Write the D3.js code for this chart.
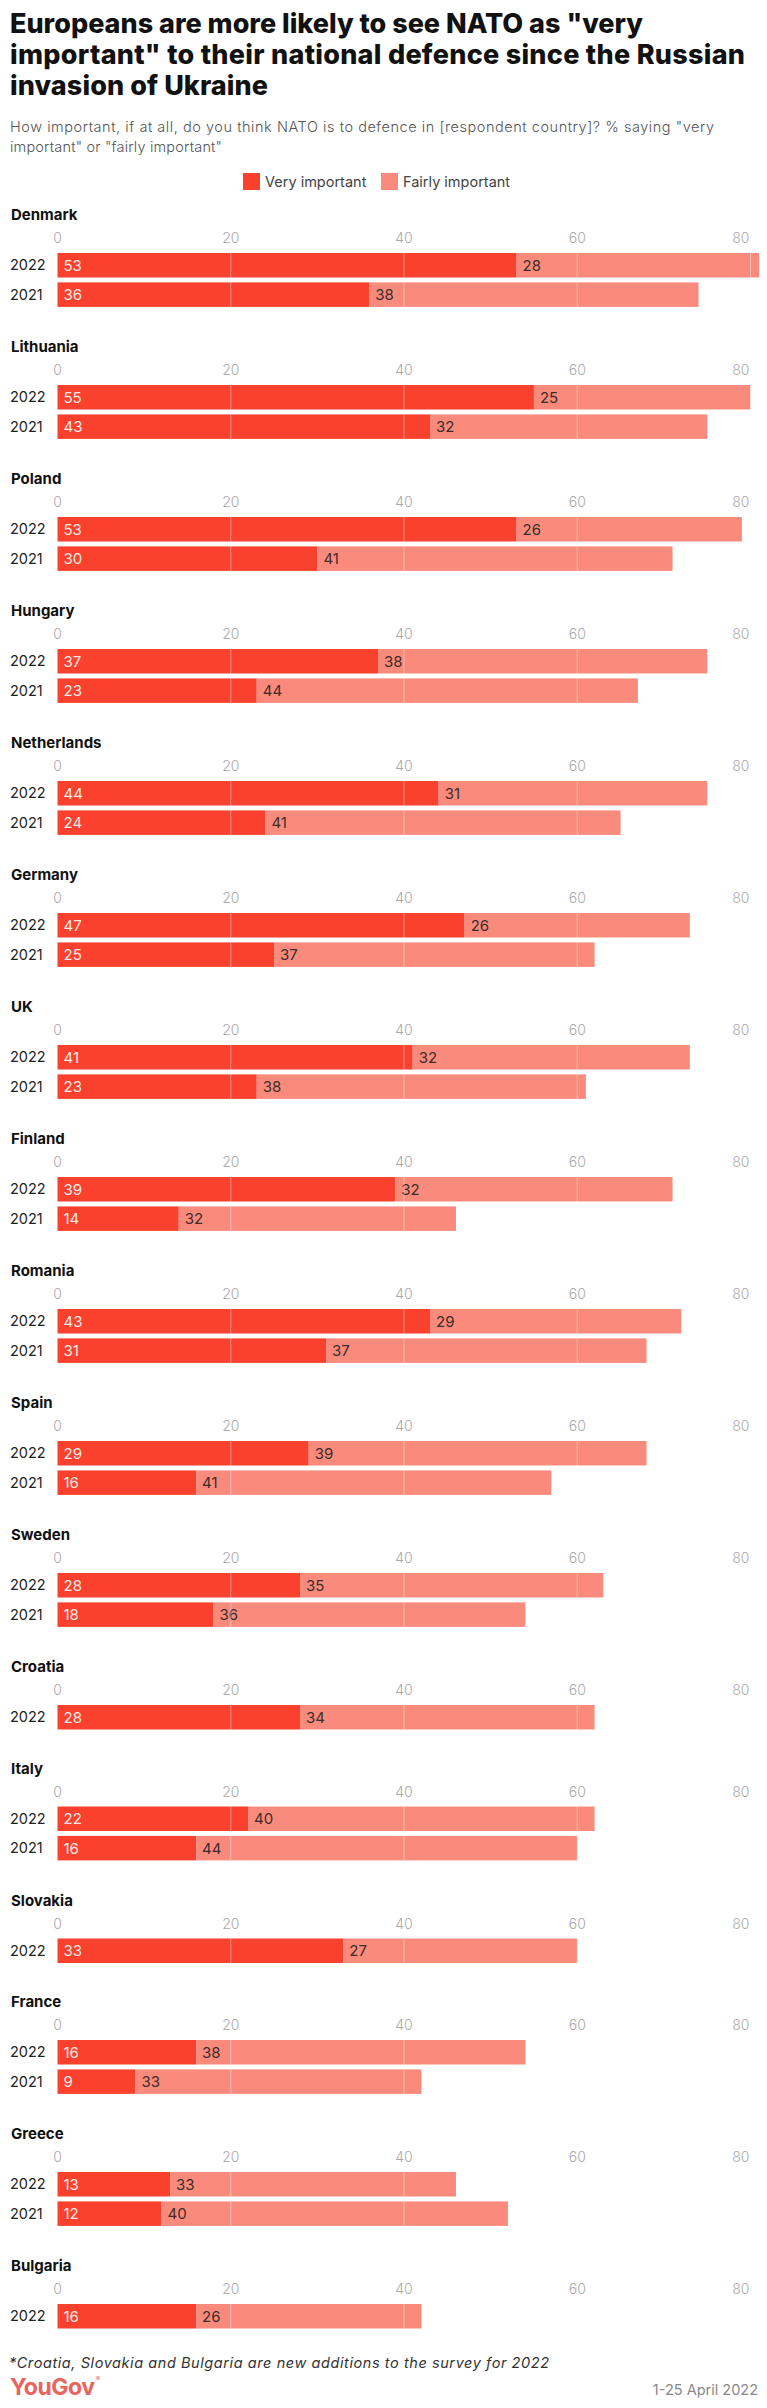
<!DOCTYPE html>
<html>
<head>
<meta charset="utf-8">
<script src="https://cdn.jsdelivr.net/npm/d3@7"></script>
<style>
  html, body { margin: 0; padding: 0; background: #fff; }
  svg { display: block; }
  text { font-family: Inter, "Noto Sans", sans-serif; }
</style>
</head>
<body>
<svg id="chart" width="767" height="2408"></svg>
<script>
// ---------- DATA ----------
const titleLines = [
  "Europeans are more likely to see NATO as \"very",
  "important\" to their national defence since the Russian",
  "invasion of Ukraine"
];
const subtitleLines = [
  "How important, if at all, do you think NATO is to defence in [respondent country]? % saying \"very",
  "important\" or \"fairly important\""
];
const seriesNames = ["Very important", "Fairly important"];
const countries = ["Denmark","Lithuania","Poland","Hungary","Netherlands","Germany","UK","Finland","Romania","Spain","Sweden","Croatia","Italy","Slovakia","France","Greece","Bulgaria"];
const years = ["2022", "2021"];
const very2022   = [53,55,53,37,44,47,41,39,43,29,28,28,22,33,16,13,16];
const fairly2022 = [28,25,26,38,31,26,32,32,29,39,35,34,40,27,38,33,26];
const very2021   = [36,43,30,23,24,25,23,14,31,16,18,null,16,null,9,12,null];
const fairly2021 = [38,32,41,44,41,37,38,32,37,41,36,null,44,null,33,40,null];
const tickValues = [0,20,40,60,80];
const noteText = "*Croatia, Slovakia and Bulgaria are new additions to the survey for 2022";
const dateText = "1-25 April 2022";
const brandText = "YouGov";

// ---------- STYLE ----------
const colVery = "#fa412d";
const colFairly = "#fa8b7c";

const svg = d3.select("#chart");
const x = d3.scaleLinear().domain([0, 80]).range([57.5, 750.5]);

// Title: pick font size so natural width approaches target, then fine-fit
const titleWidths = [633, 735, 258];
const titleSel = svg.append("g").selectAll("text").data(titleLines).join("text")
  .attr("x", 10).attr("y", (d, i) => 33 + i * 31)
  .attr("font-size", 25).attr("font-weight", 800).attr("fill", "#111")
  .text(d => d);
let ratio = Infinity;
titleSel.each(function(d, i) {
  if (i < 2) ratio = Math.min(ratio, titleWidths[i] / this.getComputedTextLength());
});
const titleSize = Math.max(24, Math.min(27.5, 25 * ratio));
titleSel.attr("font-size", titleSize)
  .attr("textLength", (d, i) => titleWidths[i]).attr("lengthAdjust", "spacing");

// Subtitle
const subWidths = [704, 212];
svg.append("g").selectAll("text").data(subtitleLines).join("text")
  .attr("x", 10).attr("y", (d, i) => 131.5 + i * 20)
  .attr("font-size", 14.5).attr("font-weight", 300).attr("fill", "#555")
  .attr("textLength", (d, i) => subWidths[i]).attr("lengthAdjust", "spacing")
  .text(d => d);

// Legend
const legX = [243, 381];
const leg = svg.append("g").selectAll("g").data(seriesNames).join("g")
  .attr("transform", (d, i) => `translate(${legX[i]},173)`);
leg.append("rect").attr("width", 17).attr("height", 17)
  .attr("fill", (d, i) => i === 0 ? colVery : colFairly);
leg.append("text").attr("x", 22).attr("y", 13.5)
  .attr("font-size", 14.5).attr("fill", "#444").text(d => d);

// Panels
const panels = countries.map((c, i) => {
  const rows = [{ year: years[0], very: very2022[i], fairly: fairly2022[i] }];
  if (very2021[i] !== null) rows.push({ year: years[1], very: very2021[i], fairly: fairly2021[i] });
  return { country: c, rows };
});

let T = 214.5;
const barH = 24.5, barStep = 29.4;
panels.forEach(p => {
  const g = svg.append("g").attr("transform", `translate(0,${T})`);
  g.append("text").attr("x", 11).attr("y", 5.5)
    .attr("font-size", 15).attr("font-weight", 700).attr("fill", "#111")
    .text(p.country);

  // tick labels
  g.append("g").selectAll("text").data(tickValues).join("text")
    .attr("x", (d, i) => i === tickValues.length - 1 ? x(d) - 1 : x(d))
    .attr("y", 28.8)
    .attr("text-anchor", (d, i) => i === tickValues.length - 1 ? "end" : "middle")
    .attr("font-size", 14).attr("font-weight", 300).attr("fill", "#a9a9a9")
    .text(d => d);

  const rowG = g.selectAll("g.row").data(p.rows).join("g").attr("class", "row")
    .attr("transform", (d, i) => `translate(0,${38.5 + i * barStep})`);

  rowG.append("text").attr("x", 10).attr("y", barH / 2 + 5)
    .attr("font-size", 14.5).attr("fill", "#222").text(d => d.year);

  rowG.append("rect").attr("x", x(0)).attr("y", 0)
    .attr("width", d => x(d.very) - x(0)).attr("height", barH).attr("fill", colVery);
  rowG.append("rect").attr("x", d => x(d.very)).attr("y", 0)
    .attr("width", d => x(d.very + d.fairly) - x(d.very)).attr("height", barH).attr("fill", colFairly);

  rowG.append("text").attr("x", x(0) + 6).attr("y", barH / 2 + 5.5)
    .attr("font-size", 15).attr("fill", "#fdeae6").text(d => d.very);
  rowG.append("text").attr("x", d => x(d.very) + 6).attr("y", barH / 2 + 5.5)
    .attr("font-size", 15).attr("fill", "#3c2c2a").text(d => d.fairly);

  // gridlines over bars
  const nRows = p.rows.length;
  g.append("g").selectAll("line").data(tickValues.slice(1)).join("line")
    .attr("x1", d => x(d)).attr("x2", d => x(d))
    .attr("y1", 38.5).attr("y2", 38.5 + (nRows - 1) * barStep + barH)
    .attr("stroke", "#fff").attr("stroke-opacity", 0.4).attr("stroke-width", 1);

  T += nRows === 2 ? 132 : 101.5;
});

// Footer
svg.append("text").attr("x", 9).attr("y", 2368)
  .attr("font-size", 14.5).attr("font-style", "italic").attr("fill", "#333")
  .attr("textLength", 540).attr("lengthAdjust", "spacing")
  .text(noteText);
svg.append("text").attr("x", 10).attr("y", 2395)
  .attr("font-size", 23).attr("font-weight", 700).attr("fill", "#e8645c")
  .attr("letter-spacing", -1)
  .attr("textLength", 84).attr("lengthAdjust", "spacing")
  .text(brandText);
svg.append("text").attr("x", 96).attr("y", 2381)
  .attr("font-size", 6).attr("fill", "#e8645c").text("®");
svg.append("text").attr("x", 758).attr("y", 2395).attr("text-anchor", "end")
  .attr("font-size", 14.5).attr("fill", "#888").text(dateText);
</script>
</body>
</html>
